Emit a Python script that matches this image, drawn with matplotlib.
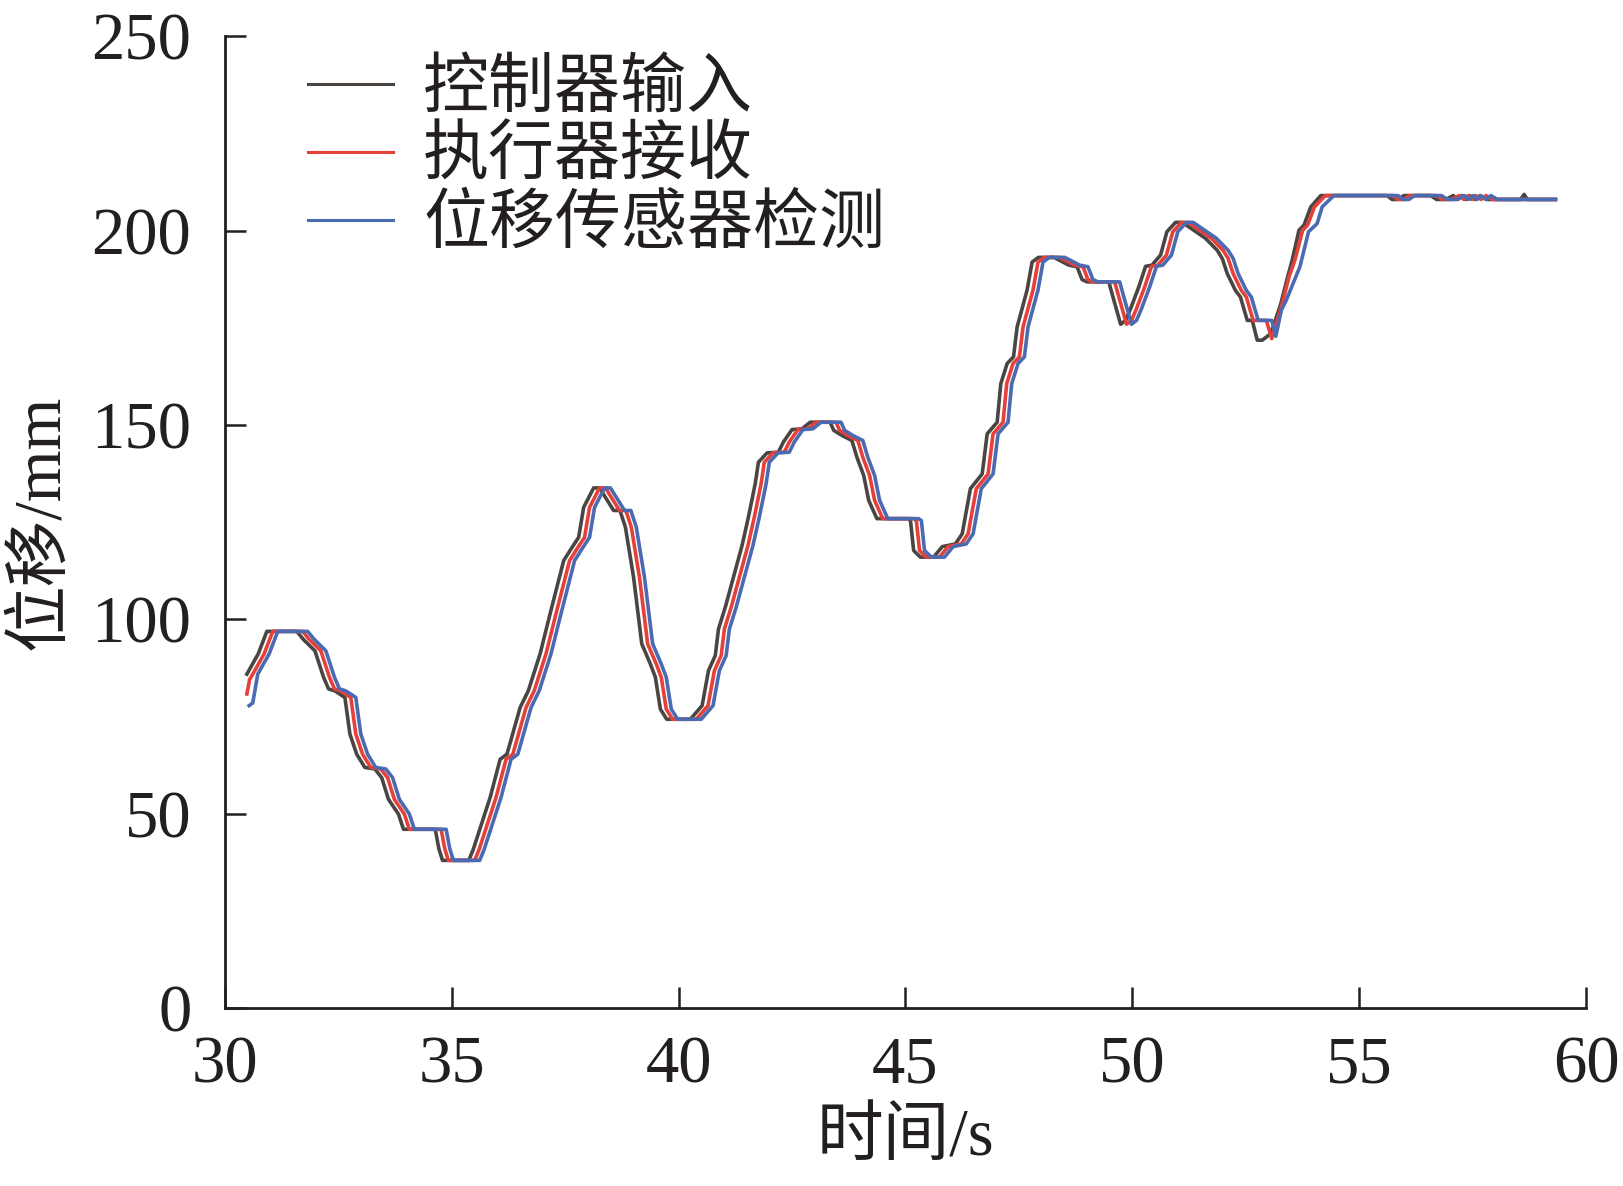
import matplotlib
matplotlib.use("Agg")
import matplotlib.pyplot as plt

plt.rcParams['font.family'] = ['Liberation Serif', 'Noto Sans CJK SC', 'DejaVu Sans']

# ---- data (time in s, displacement in mm) ----
t_ctrl = [30.49, 30.74, 30.93, 31.59, 31.73, 31.99, 32.18, 32.29, 32.43, 32.65, 32.76, 32.91, 33.09, 33.31,
          33.46, 33.61, 33.83, 33.94, 34.64, 34.72, 34.80, 35.38, 35.48, 35.85, 36.07, 36.22, 36.51, 36.69,
          36.95, 37.17, 37.47, 37.61, 37.80, 37.91, 38.13, 38.26, 38.57, 38.71, 38.83, 39.01, 39.19, 39.38,
          39.49, 39.60, 39.74, 40.26, 40.52, 40.66, 40.81, 40.88, 41.03, 41.21, 41.40, 41.54, 41.69, 41.76,
          41.95, 42.20, 42.31, 42.50, 42.72, 42.90, 43.34, 43.42, 43.60, 43.82, 43.93, 44.08, 44.19, 44.37,
          45.05, 45.11, 45.18, 45.33, 45.62, 45.81, 46.10, 46.25, 46.43, 46.69, 46.80, 47.02, 47.10, 47.24,
          47.38, 47.46, 47.68, 47.79, 47.93, 48.27, 48.60, 48.78, 48.89, 49.00, 49.48, 49.55, 49.74, 49.85,
          49.96, 50.14, 50.29, 50.43, 50.62, 50.76, 50.95, 51.10, 51.35, 51.61, 51.87, 51.98, 52.09, 52.27,
          52.38, 52.53, 52.64, 52.75, 52.86, 53.05, 53.27, 53.42, 53.52, 53.67, 53.78, 53.93, 54.15, 55.61,
          55.72, 55.85, 55.98, 56.57, 56.70, 56.90, 57.07, 57.17, 57.27, 57.35, 57.43, 57.55, 57.66, 57.80,
          58.55, 58.63, 58.70, 59.32]
v_ctrl = [85.9, 91.1, 96.9, 96.9, 94.9, 91.9, 85.1, 82.1, 81.6, 79.9, 70.5, 65.3, 61.9, 61.5,
          59.3, 53.7, 49.9, 46.0, 46.0, 41.0, 38.0, 38.0, 40.9, 54.2, 64.0, 65.3, 77.3, 81.6,
          91.1, 101.4, 115.1, 117.7, 121.1, 128.8, 133.8, 133.8, 128.0, 128.0, 123.7, 110.8, 93.7, 88.5,
          85.1, 76.9, 74.3, 74.3, 77.8, 86.8, 90.7, 97.5, 103.1, 110.8, 119.0, 126.3, 134.9, 140.4,
          142.8, 143.0, 145.6, 148.8, 149.0, 150.7, 150.7, 148.6, 147.3, 146.0, 141.7, 137.0, 130.6, 125.9,
          125.9, 125.4, 117.7, 116.0, 116.0, 118.7, 119.4, 122.0, 133.6, 137.4, 147.7, 150.7, 160.6, 165.8,
          167.5, 175.2, 184.7, 191.9, 193.1, 193.1, 191.1, 190.7, 187.4, 186.8, 186.8, 183.8, 175.9, 176.9,
          179.9, 185.5, 190.8, 191.1, 193.7, 199.7, 202.1, 202.1, 200.1, 198.0, 194.9, 192.8, 188.9, 184.6,
          182.9, 176.9, 176.9, 171.8, 171.8, 173.5, 181.2, 188.1, 192.4, 200.1, 201.4, 206.1, 209.0, 209.0,
          208.0, 208.0, 209.0, 209.0, 208.0, 208.0, 209.0, 208.0, 209.0, 208.0, 209.0, 208.0, 209.0, 208.0,
          208.0, 209.3, 208.0, 208.0]

t_act = [30.49, 30.55, 30.62, 30.87, 31.06, 31.72, 31.86, 32.12, 32.31, 32.42, 32.56, 32.78, 32.89, 33.04,
         33.22, 33.44, 33.59, 33.74, 33.96, 34.07, 34.77, 34.85, 34.93, 35.51, 35.61, 35.98, 36.20, 36.35,
         36.64, 36.82, 37.08, 37.30, 37.60, 37.74, 37.93, 38.04, 38.26, 38.39, 38.70, 38.84, 38.96, 39.14,
         39.32, 39.51, 39.62, 39.73, 39.87, 40.39, 40.65, 40.79, 40.94, 41.01, 41.16, 41.34, 41.53, 41.67,
         41.82, 41.89, 42.08, 42.33, 42.44, 42.63, 42.85, 43.03, 43.47, 43.55, 43.73, 43.95, 44.06, 44.21,
         44.32, 44.50, 45.18, 45.24, 45.31, 45.46, 45.75, 45.94, 46.23, 46.38, 46.56, 46.82, 46.93, 47.15,
         47.23, 47.37, 47.51, 47.59, 47.81, 47.92, 48.06, 48.40, 48.73, 48.91, 49.02, 49.13, 49.61, 49.68,
         49.87, 49.98, 50.09, 50.27, 50.42, 50.56, 50.75, 50.89, 51.08, 51.23, 51.48, 51.74, 52.00, 52.11,
         52.22, 52.40, 52.51, 52.66, 52.95, 53.07, 53.30, 53.45, 53.58, 53.75, 53.86, 54.01, 54.25, 55.74,
         55.85, 55.98, 56.11, 56.70, 56.83, 57.03, 57.20, 57.30, 57.40, 57.48, 57.56, 57.68, 57.79, 57.93,
         59.32]
v_act = [80.8, 84.5, 85.9, 91.1, 96.9, 96.9, 94.9, 91.9, 85.1, 82.1, 81.6, 79.9, 70.5, 65.3,
         61.9, 61.5, 59.3, 53.7, 49.9, 46.0, 46.0, 41.0, 38.0, 38.0, 40.9, 54.2, 64.0, 65.3,
         77.3, 81.6, 91.1, 101.4, 115.1, 117.7, 121.1, 128.8, 133.8, 133.8, 128.0, 128.0, 123.7, 110.8,
         93.7, 88.5, 85.1, 76.9, 74.3, 74.3, 77.8, 86.8, 90.7, 97.5, 103.1, 110.8, 119.0, 126.3,
         134.9, 140.4, 142.8, 143.0, 145.6, 148.8, 149.0, 150.7, 150.7, 148.6, 147.3, 146.0, 141.7, 137.0,
         130.6, 125.9, 125.9, 125.4, 117.7, 116.0, 116.0, 118.7, 119.4, 122.0, 133.6, 137.4, 147.7, 150.7,
         160.6, 165.8, 167.5, 175.2, 184.7, 191.9, 193.1, 193.1, 191.1, 190.7, 187.4, 186.8, 186.8, 183.8,
         175.9, 176.9, 179.9, 185.5, 190.8, 191.1, 193.7, 199.7, 202.1, 202.1, 200.1, 198.0, 194.9, 192.8,
         188.9, 184.6, 182.9, 176.9, 176.9, 172.2, 181.2, 188.1, 192.4, 200.1, 201.4, 206.1, 209.0, 209.0,
         208.0, 208.0, 209.0, 209.0, 208.0, 208.0, 209.0, 208.0, 209.0, 208.0, 209.0, 208.0, 209.0, 208.0,
         208.0]

t_sens = [30.54, 30.62, 30.73, 30.98, 31.17, 31.83, 31.97, 32.23, 32.42, 32.53, 32.67, 32.89, 33.00, 33.15,
          33.33, 33.55, 33.70, 33.85, 34.07, 34.18, 34.88, 34.96, 35.04, 35.62, 35.72, 36.09, 36.31, 36.46,
          36.75, 36.93, 37.19, 37.41, 37.71, 37.85, 38.04, 38.15, 38.37, 38.50, 38.81, 38.95, 39.07, 39.25,
          39.43, 39.62, 39.73, 39.84, 39.98, 40.50, 40.76, 40.90, 41.05, 41.12, 41.27, 41.45, 41.64, 41.78,
          41.93, 42.00, 42.19, 42.44, 42.55, 42.74, 42.96, 43.14, 43.58, 43.66, 43.84, 44.06, 44.17, 44.32,
          44.43, 44.61, 45.29, 45.35, 45.42, 45.57, 45.86, 46.05, 46.34, 46.49, 46.67, 46.93, 47.04, 47.26,
          47.34, 47.48, 47.62, 47.70, 47.92, 48.03, 48.17, 48.51, 48.84, 49.02, 49.13, 49.24, 49.72, 49.79,
          49.98, 50.09, 50.20, 50.38, 50.53, 50.67, 50.86, 51.00, 51.19, 51.34, 51.59, 51.85, 52.11, 52.22,
          52.33, 52.51, 52.62, 52.77, 53.07, 53.16, 53.28, 53.39, 53.54, 53.69, 53.88, 54.07, 54.18, 54.44,
          55.85, 55.96, 56.09, 56.22, 56.81, 56.94, 57.14, 57.31, 57.41, 57.51, 57.59, 57.67, 57.79, 57.90,
          58.04, 59.32]
v_sens = [77.8, 78.5, 85.9, 91.1, 96.9, 96.9, 94.9, 91.9, 85.1, 82.1, 81.6, 79.9, 70.5, 65.3,
          61.9, 61.5, 59.3, 53.7, 49.9, 46.0, 46.0, 41.0, 38.0, 38.0, 40.9, 54.2, 64.0, 65.3,
          77.3, 81.6, 91.1, 101.4, 115.1, 117.7, 121.1, 128.8, 133.8, 133.8, 128.0, 128.0, 123.7, 110.8,
          93.7, 88.5, 85.1, 76.9, 74.3, 74.3, 77.8, 86.8, 90.7, 97.5, 103.1, 110.8, 119.0, 126.3,
          134.9, 140.4, 142.8, 143.0, 145.6, 148.8, 149.0, 150.7, 150.7, 148.6, 147.3, 146.0, 141.7, 137.0,
          130.6, 125.9, 125.9, 125.4, 117.7, 116.0, 116.0, 118.7, 119.4, 122.0, 133.6, 137.4, 147.7, 150.7,
          160.6, 165.8, 167.5, 175.2, 184.7, 191.9, 193.1, 193.1, 191.1, 190.7, 187.4, 186.8, 186.8, 183.8,
          175.9, 176.9, 179.9, 185.5, 190.8, 191.1, 193.7, 199.7, 202.1, 202.1, 200.1, 198.0, 194.9, 192.8,
          188.9, 184.6, 182.9, 176.9, 176.9, 172.8, 179.5, 182.1, 186.4, 190.7, 199.7, 201.8, 206.1, 209.0,
          209.0, 208.0, 208.0, 209.0, 209.0, 208.0, 208.0, 209.0, 208.0, 209.0, 208.0, 209.0, 208.0, 209.0,
          208.0, 208.0]

labels = ['控制器输入', '执行器接收', '位移传感器检测']
x_ticks = [30, 35, 40, 45, 50, 55, 60]
y_ticks = [0, 50, 100, 150, 200, 250]
x_label = '时间/s'
y_label = '位移/mm'

# ---- figure ----
fig = plt.figure(figsize=(16.23, 11.86), dpi=100)
ax = fig.add_axes([0.1384, 0.150, 0.8390, 0.8195])

ax.plot(t_ctrl, v_ctrl, color='#4a4541', lw=2.6, label=labels[0])
ax.plot(t_act, v_act, color='#e5403a', lw=2.6, label=labels[1])
ax.plot(t_sens, v_sens, color='#4a6ab2', lw=2.6, label=labels[2])

ax.set_xlim(30, 60)
ax.set_ylim(0, 250)
ax.set_xticks(x_ticks)
ax.set_yticks(y_ticks)
for s in ['top', 'right']:
    ax.spines[s].set_visible(False)
for s in ['left', 'bottom']:
    ax.spines[s].set_linewidth(2.0)
    ax.spines[s].set_color('#231f20')

ax.tick_params(axis='both', direction='in', length=15, width=1.8, colors='#231f20',
               labelsize=48, labelcolor='#231f20')
ax.tick_params(axis='x', pad=20)
ax.tick_params(axis='y', pad=24)

ax.set_xlabel(x_label, fontsize=48, color='#231f20', labelpad=8)
ax.set_ylabel(y_label, fontsize=48, color='#231f20', labelpad=14)

leg = ax.legend(loc='upper left', bbox_to_anchor=(0.061, 0.975), frameon=False,
                fontsize=47.5, handlelength=1.3, handletextpad=0.45, labelspacing=0.1,
                borderpad=0.0, borderaxespad=0.0)
for line in leg.get_lines():
    line.set_linewidth(2.2)
for txt in leg.get_texts():
    txt.set_color('#231f20')

fig.savefig('out.png', dpi=100)
